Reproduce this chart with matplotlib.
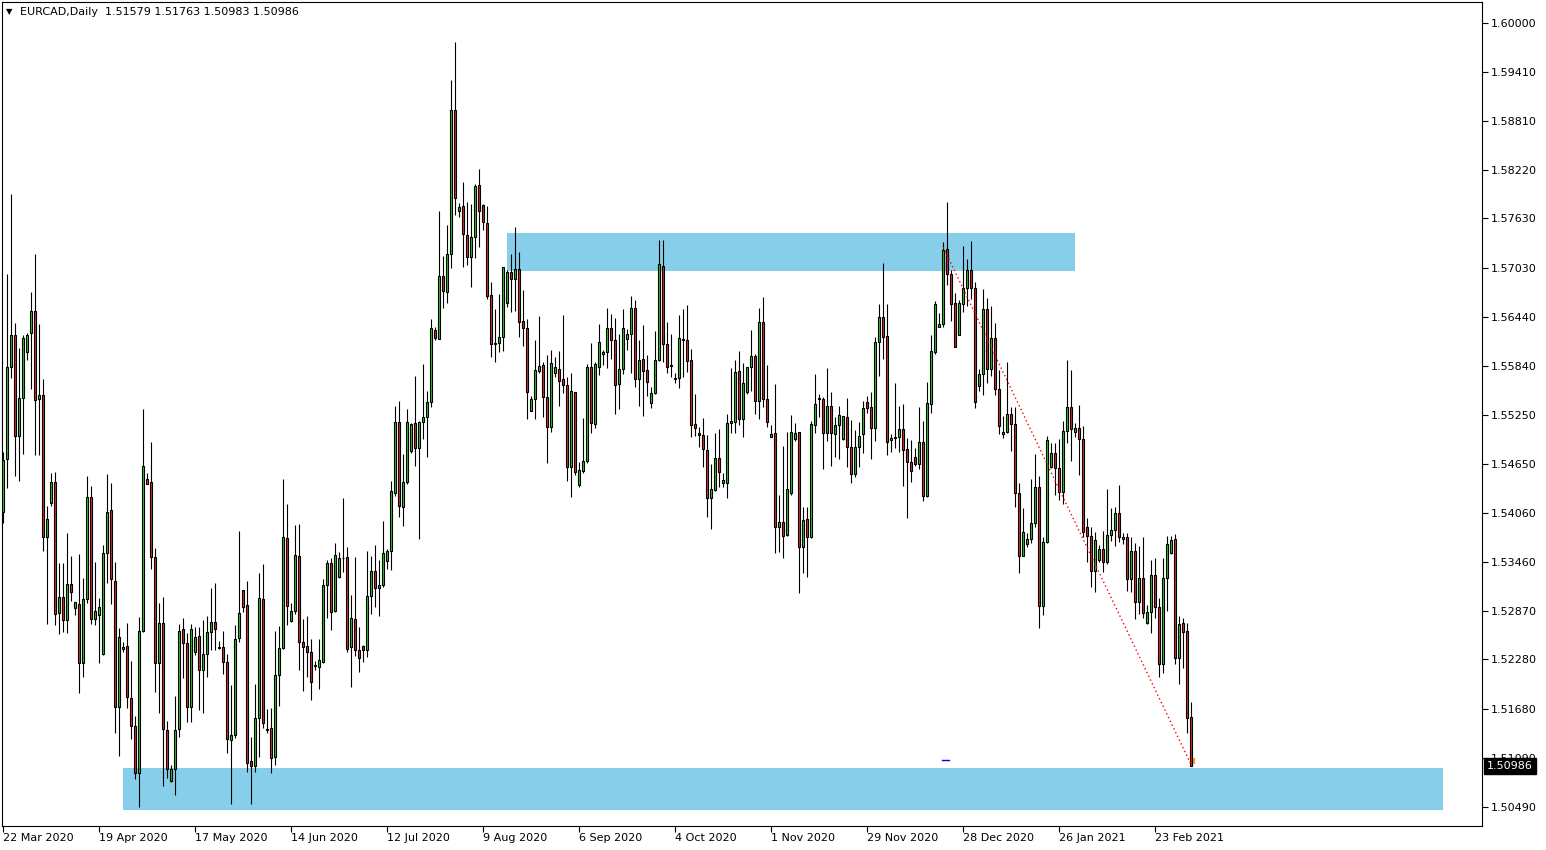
import matplotlib
matplotlib.use("Agg")
import matplotlib.pyplot as plt
import matplotlib.transforms as mtransforms
from matplotlib.patches import Rectangle
import numpy as np

symbol = "EURCAD,Daily"

opens = [
    1.54069, 1.54712, 1.55827, 1.56215, 1.54990, 1.55451, 1.56010, 1.56240, 1.56507, 1.55439,
    1.55487, 1.53765, 1.54178, 1.54433, 1.52843, 1.53037, 1.52758, 1.53195, 1.52904, 1.52952,
    1.52237, 1.53013, 1.54250, 1.52770, 1.52819, 1.52346, 1.53571, 1.54093, 1.53232, 1.51703,
    1.52407, 1.52443, 1.51812, 1.51473, 1.50903, 1.52625, 1.54469, 1.54433, 1.53523, 1.52237,
    1.52722, 1.51424, 1.50806, 1.50951, 1.51436, 1.52649, 1.52479, 1.51703, 1.52370, 1.52564,
    1.52152, 1.52346, 1.52613, 1.52734, 1.52419, 1.52431, 1.52249, 1.51303, 1.51364, 1.52540,
    1.53122, 1.52940, 1.51048, 1.50988, 1.51570, 1.53013, 1.51436, 1.51448, 1.51097, 1.52091,
    1.52419, 1.53753, 1.52746, 1.52868, 1.53535, 1.52492, 1.52443, 1.52370, 1.52213, 1.52188,
    1.52249, 1.53183, 1.53450, 1.52868, 1.53280, 1.53511, 1.53523, 1.52431, 1.52770, 1.52395,
    1.52443, 1.52395, 1.53050, 1.53353, 1.53147, 1.53183, 1.53474, 1.53596, 1.54299, 1.55160,
    1.54129, 1.54433, 1.54809, 1.55148, 1.54845, 1.55160, 1.55221, 1.55403, 1.56276, 1.56167,
    1.56931, 1.56737, 1.57198, 1.58945, 1.57720, 1.57780, 1.57428, 1.57161, 1.57404, 1.58035,
    1.57793, 1.57574, 1.56701, 1.56118, 1.56118, 1.56191, 1.56604, 1.56980, 1.56895, 1.57016,
    1.56385, 1.56300, 1.55294, 1.55439, 1.55779, 1.55852, 1.55464, 1.55100, 1.55755, 1.55803,
    1.55682, 1.55609, 1.54614, 1.55524, 1.54396, 1.54566, 1.54687, 1.55827, 1.55136, 1.55827,
    1.55985, 1.56010, 1.56300, 1.56155, 1.55621, 1.55803, 1.56167, 1.56227, 1.56543, 1.55682,
    1.55924, 1.55791, 1.55391, 1.55512, 1.55912, 1.57052, 1.56106, 1.55852, 1.55694, 1.55694,
    1.56167, 1.56155, 1.55912, 1.55136, 1.55027, 1.55003, 1.54821, 1.54238, 1.54335, 1.54724,
    1.54420, 1.54420, 1.55148, 1.55160, 1.55779, 1.55197, 1.55524, 1.55827, 1.55961, 1.55415,
    1.56373, 1.55439, 1.54978, 1.55027, 1.53887, 1.53947, 1.53789, 1.54299, 1.54954, 1.55039,
    1.53644, 1.53984, 1.53765, 1.55124, 1.55451, 1.55439, 1.55027, 1.55354, 1.55015, 1.55124,
    1.54954, 1.55221, 1.54857, 1.54530, 1.54857, 1.55015, 1.55403, 1.55342, 1.55087, 1.56131,
    1.56434, 1.56203, 1.54942, 1.54978, 1.54978, 1.55075, 1.54833, 1.54675, 1.54736, 1.54650,
    1.54918, 1.54263, 1.55379, 1.56010, 1.56313, 1.56348, 1.57259, 1.56955, 1.56604, 1.56215,
    1.56592, 1.56786, 1.57004, 1.56786, 1.55597, 1.55743, 1.56531, 1.55803, 1.56179, 1.55561,
    1.55015, 1.55039, 1.55257, 1.55136, 1.54299, 1.53535, 1.53680, 1.53741, 1.53935, 1.54372,
    1.52928, 1.53705, 1.54614, 1.54785, 1.54602, 1.54311, 1.55051, 1.55342, 1.55039, 1.55087,
    1.54954, 1.53887, 1.53777, 1.53353, 1.53486, 1.53620, 1.53462, 1.53789, 1.53850, 1.54056,
    1.53741, 1.53765, 1.53256, 1.53596, 1.52977, 1.53268, 1.52722, 1.52855, 1.53304, 1.52916,
    1.52225, 1.53268, 1.53571, 1.53741, 1.52298, 1.52722, 1.52625, 1.51579,
]

highs = [
    1.54797, 1.56955, 1.57925, 1.56361, 1.56058, 1.56215, 1.56240, 1.56737, 1.57198, 1.56348,
    1.55682, 1.54141, 1.54542, 1.54554, 1.53450, 1.53450, 1.53814, 1.53535, 1.52977, 1.53559,
    1.53268, 1.54505, 1.54384, 1.53462, 1.53025, 1.53668, 1.54530, 1.54420, 1.53462, 1.52661,
    1.52492, 1.52722, 1.52261, 1.51594, 1.52795, 1.55318, 1.54542, 1.54918, 1.53632, 1.52965,
    1.53037, 1.51533, 1.51000, 1.51836, 1.52709, 1.52782, 1.52601, 1.52709, 1.52673, 1.52673,
    1.52758, 1.52807, 1.53147, 1.53207, 1.52504, 1.52625, 1.52346, 1.51970, 1.52697, 1.53838,
    1.53122, 1.53232, 1.51339, 1.51982, 1.53329, 1.53438, 1.51679, 1.51691, 1.52625, 1.52685,
    1.54469, 1.54166, 1.52965, 1.53911, 1.53923, 1.52770, 1.52807, 1.52528, 1.52261, 1.52528,
    1.53256, 1.53486, 1.53511, 1.53692, 1.53584, 1.54238, 1.53644, 1.53062, 1.53523, 1.52673,
    1.52455, 1.53596, 1.53535, 1.53668, 1.53486, 1.53959, 1.53620, 1.54445, 1.55354, 1.55415,
    1.54772, 1.55318, 1.55148, 1.55718, 1.55172, 1.55864, 1.55536, 1.56409, 1.56312, 1.57720,
    1.57173, 1.57550, 1.59309, 1.59770, 1.57817, 1.58071, 1.57829, 1.57805, 1.58047, 1.58229,
    1.57805, 1.57780, 1.56859, 1.56531, 1.56713, 1.57040, 1.57004, 1.57198, 1.57526, 1.57222,
    1.56761, 1.56409, 1.55476, 1.56155, 1.56446, 1.55888, 1.55973, 1.56034, 1.55949, 1.56022,
    1.56458, 1.55706, 1.55755, 1.55524, 1.54675, 1.55209, 1.55864, 1.56118, 1.55888, 1.56348,
    1.56034, 1.56543, 1.56470, 1.56421, 1.56227, 1.56531, 1.56288, 1.56689, 1.56640, 1.56155,
    1.56336, 1.55973, 1.55585, 1.56264, 1.57368, 1.57368, 1.56373, 1.56227, 1.55755, 1.56458,
    1.56531, 1.56579, 1.56046, 1.55500, 1.55100, 1.55209, 1.55003, 1.54650, 1.55027, 1.55075,
    1.54542, 1.55257, 1.55815, 1.55912, 1.56022, 1.55876, 1.55827, 1.56276, 1.55985, 1.56543,
    1.56676, 1.55852, 1.55124, 1.55621, 1.54275, 1.54869, 1.55039, 1.55245, 1.55148, 1.55039,
    1.54129, 1.54129, 1.55172, 1.55743, 1.55500, 1.55464, 1.55815, 1.55524, 1.55221, 1.55354,
    1.55233, 1.55451, 1.55184, 1.55063, 1.55160, 1.55415, 1.55476, 1.55524, 1.56191, 1.56592,
    1.57089, 1.56592, 1.55015, 1.55633, 1.55354, 1.55379, 1.54966, 1.54942, 1.54845, 1.55342,
    1.55172, 1.55645, 1.56215, 1.56628, 1.56482, 1.57343, 1.57829, 1.57004, 1.56725, 1.56640,
    1.57295, 1.57137, 1.57356, 1.56859, 1.55803, 1.56774, 1.56664, 1.56567, 1.56361, 1.55791,
    1.55233, 1.55888, 1.55342, 1.55342, 1.54420, 1.54117, 1.53814, 1.54469, 1.54772, 1.54505,
    1.53765, 1.54990, 1.54906, 1.54906, 1.54954, 1.55172, 1.55912, 1.55791, 1.55148, 1.55366,
    1.55112, 1.53996, 1.53887, 1.53826, 1.53668, 1.53838, 1.54348, 1.54117, 1.54129, 1.54396,
    1.53814, 1.53814, 1.53765, 1.53692, 1.53656, 1.53765, 1.52940, 1.53486, 1.53511, 1.53025,
    1.53511, 1.53777, 1.53777, 1.53802, 1.52807, 1.52782, 1.52722, 1.51763,
]

lows = [
    1.53935, 1.54360, 1.55694, 1.54505, 1.54445, 1.54772, 1.55912, 1.55561, 1.54760, 1.54760,
    1.53596, 1.52709, 1.54141, 1.52697, 1.52588, 1.52613, 1.52601, 1.52989, 1.52819, 1.51873,
    1.52067, 1.52965, 1.52709, 1.52697, 1.52237, 1.52334, 1.53207, 1.52952, 1.51388, 1.51109,
    1.52370, 1.51691, 1.51315, 1.50830, 1.50490, 1.52613, 1.54408, 1.53377, 1.51885, 1.51630,
    1.50745, 1.50842, 1.50794, 1.50636, 1.51339, 1.52055, 1.51521, 1.51521, 1.52334, 1.51667,
    1.51630, 1.52067, 1.52395, 1.52395, 1.52407, 1.52104, 1.51146, 1.50527, 1.51327, 1.52492,
    1.52855, 1.50915, 1.50527, 1.50915, 1.51097, 1.51448, 1.51388, 1.50903, 1.51000, 1.51715,
    1.52407, 1.52697, 1.52734, 1.52831, 1.52152, 1.51897, 1.52067, 1.51788, 1.52152, 1.51921,
    1.52237, 1.52782, 1.52637, 1.52855, 1.53268, 1.53341, 1.52370, 1.51945, 1.52322, 1.52128,
    1.52249, 1.52310, 1.52831, 1.52916, 1.52807, 1.53159, 1.53377, 1.53365, 1.54263, 1.54008,
    1.53899, 1.54408, 1.54785, 1.54626, 1.53741, 1.54954, 1.54736, 1.55342, 1.56155, 1.56167,
    1.56543, 1.56604, 1.57028, 1.57671, 1.57647, 1.57040, 1.57064, 1.56798, 1.57149, 1.57283,
    1.57489, 1.56652, 1.55949, 1.55888, 1.56009, 1.56022, 1.56555, 1.56494, 1.56507, 1.56191,
    1.56082, 1.55197, 1.55294, 1.55197, 1.55755, 1.55221, 1.54663, 1.55039, 1.55706, 1.55354,
    1.55512, 1.54445, 1.54250, 1.54517, 1.54372, 1.54542, 1.54663, 1.55027, 1.55087, 1.55730,
    1.55852, 1.55815, 1.55924, 1.55257, 1.55318, 1.55743, 1.56034, 1.55755, 1.55585, 1.55354,
    1.55233, 1.55476, 1.55330, 1.55500, 1.55900, 1.55888, 1.55755, 1.55706, 1.55633, 1.55573,
    1.55706, 1.55767, 1.54978, 1.54990, 1.54857, 1.54614, 1.54008, 1.53862, 1.54323, 1.54372,
    1.54372, 1.54238, 1.55027, 1.55027, 1.55124, 1.54978, 1.55500, 1.55536, 1.55257, 1.55197,
    1.55342, 1.55100, 1.54978, 1.53571, 1.53584, 1.53511, 1.53777, 1.54275, 1.54930, 1.53086,
    1.53329, 1.53280, 1.53753, 1.55027, 1.55221, 1.54590, 1.54930, 1.54626, 1.54736, 1.54712,
    1.54942, 1.54614, 1.54420, 1.54493, 1.54614, 1.54785, 1.55269, 1.54712, 1.54930, 1.55718,
    1.55924, 1.54760, 1.54797, 1.54845, 1.54797, 1.54384, 1.53996, 1.54433, 1.54626, 1.54590,
    1.54202, 1.54250, 1.55269, 1.55985, 1.56313, 1.56313, 1.56822, 1.56385, 1.56070, 1.56215,
    1.56494, 1.56567, 1.56652, 1.55330, 1.55536, 1.55488, 1.55633, 1.55718, 1.55488, 1.55015,
    1.54966, 1.55027, 1.54809, 1.54129, 1.53329, 1.53535, 1.53644, 1.53692, 1.53887, 1.52661,
    1.52819, 1.53692, 1.54602, 1.54275, 1.54214, 1.54166, 1.54906, 1.54687, 1.54978, 1.54517,
    1.53765, 1.53462, 1.53159, 1.53098, 1.53462, 1.53341, 1.53438, 1.53717, 1.53656, 1.53705,
    1.53680, 1.53110, 1.53098, 1.52770, 1.52831, 1.52782, 1.52709, 1.52601, 1.52782, 1.52067,
    1.52116, 1.52868, 1.53559, 1.52225, 1.51982, 1.52176, 1.51388, 1.50983,
]

closes = [
    1.54699, 1.55827, 1.56215, 1.54990, 1.55451, 1.56179, 1.56215, 1.56507, 1.55427, 1.55487,
    1.53765, 1.53984, 1.54433, 1.52831, 1.53037, 1.52758, 1.53195, 1.53098, 1.52977, 1.52237,
    1.53013, 1.54250, 1.52770, 1.52868, 1.52916, 1.53571, 1.54069, 1.53256, 1.51703, 1.52552,
    1.52431, 1.51824, 1.51473, 1.50903, 1.52625, 1.54626, 1.54408, 1.53523, 1.52237, 1.52722,
    1.51436, 1.50951, 1.50951, 1.51424, 1.52625, 1.52479, 1.51703, 1.52649, 1.52552, 1.52152,
    1.52346, 1.52613, 1.52734, 1.52649, 1.52431, 1.52249, 1.51315, 1.51364, 1.52528, 1.52843,
    1.52916, 1.51024, 1.50988, 1.51570, 1.53025, 1.51509, 1.51430, 1.51085, 1.52091, 1.52419,
    1.53765, 1.52928, 1.52868, 1.53547, 1.52492, 1.52431, 1.52370, 1.52006, 1.52200, 1.52273,
    1.53183, 1.53450, 1.52855, 1.53547, 1.53511, 1.53505, 1.52407, 1.52782, 1.52395, 1.52298,
    1.52395, 1.53050, 1.53353, 1.53147, 1.53183, 1.53571, 1.53596, 1.54323, 1.55160, 1.54141,
    1.54433, 1.55160, 1.55136, 1.54845, 1.55160, 1.55221, 1.55403, 1.56300, 1.56179, 1.56931,
    1.56749, 1.57198, 1.58945, 1.57877, 1.57768, 1.57440, 1.57161, 1.57404, 1.58023, 1.57720,
    1.57586, 1.56689, 1.56106, 1.56110, 1.56191, 1.57040, 1.56980, 1.56895, 1.57016, 1.56373,
    1.56300, 1.55524, 1.55439, 1.55791, 1.55839, 1.55464, 1.55100, 1.55876, 1.55827, 1.55658,
    1.55609, 1.54614, 1.55536, 1.54554, 1.54578, 1.54687, 1.55827, 1.55148, 1.55864, 1.56131,
    1.56010, 1.56300, 1.56155, 1.55609, 1.55803, 1.56300, 1.56227, 1.56543, 1.55682, 1.55912,
    1.55779, 1.55646, 1.55512, 1.55912, 1.57077, 1.56106, 1.55827, 1.55845, 1.55682, 1.56179,
    1.56155, 1.55900, 1.55124, 1.55087, 1.55003, 1.54833, 1.54238, 1.54348, 1.54724, 1.54554,
    1.54457, 1.55148, 1.55172, 1.55767, 1.55197, 1.55633, 1.55827, 1.55961, 1.55415, 1.56373,
    1.55439, 1.55160, 1.55015, 1.53887, 1.53947, 1.53777, 1.54348, 1.55039, 1.55027, 1.53644,
    1.53971, 1.53765, 1.55136, 1.55379, 1.55439, 1.55027, 1.55354, 1.55027, 1.55124, 1.55245,
    1.55233, 1.54857, 1.54530, 1.54857, 1.54990, 1.55330, 1.55330, 1.55087, 1.56131, 1.56434,
    1.56191, 1.54918, 1.54966, 1.54972, 1.55075, 1.54821, 1.54675, 1.54566, 1.54650, 1.54918,
    1.54263, 1.55391, 1.56022, 1.56592, 1.56348, 1.57247, 1.56955, 1.56592, 1.56070, 1.56604,
    1.56786, 1.57004, 1.56786, 1.55403, 1.55743, 1.56531, 1.55803, 1.56179, 1.55561, 1.55112,
    1.55039, 1.55257, 1.55136, 1.54299, 1.53535, 1.53826, 1.53741, 1.53935, 1.54372, 1.52928,
    1.53705, 1.54942, 1.54785, 1.54602, 1.54311, 1.55051, 1.55342, 1.55075, 1.55087, 1.54954,
    1.53826, 1.53777, 1.53353, 1.53729, 1.53620, 1.53462, 1.53789, 1.53850, 1.54056, 1.53765,
    1.53765, 1.53256, 1.53596, 1.52977, 1.53268, 1.52843, 1.52855, 1.53304, 1.52916, 1.52225,
    1.53268, 1.53680, 1.53729, 1.52298, 1.52709, 1.52613, 1.51570, 1.50986,
]

date_labels = ["22 Mar 2020", "19 Apr 2020", "17 May 2020", "14 Jun 2020", "12 Jul 2020",
               "9 Aug 2020", "6 Sep 2020", "4 Oct 2020", "1 Nov 2020", "29 Nov 2020",
               "28 Dec 2020", "26 Jan 2021", "23 Feb 2021"]
bars_per_label = 24

price_ticks = [1.60000, 1.59410, 1.58810, 1.58220, 1.57630, 1.57030, 1.56440, 1.55840,
               1.55250, 1.54650, 1.54060, 1.53460, 1.52870, 1.52280, 1.51680, 1.51090, 1.50490]

# supply / demand zones: (start bar, end bar, low price, high price)
zone_start = [125.9, 29.9]
zone_end = [267.9, 359.9]
zone_low = [1.56992, 1.50454]
zone_high = [1.57453, 1.50963]

trend_bars = [235, 297]
trend_prices = [1.57280, 1.51000]

# ---------------------------------------------------------------
W, H = 1546, 850
fig = plt.figure(figsize=(W / 100, H / 100), dpi=100)
fig.patch.set_facecolor("white")
ax = fig.add_axes([2 / W, 24 / H, 1480 / W, 824 / H])

o = np.array(opens)
h = np.array(highs)
l = np.array(lows)
c = np.array(closes)
n = len(o)
x = np.arange(n)
up = c >= o

BULL = "#26C926"
BEAR = "#D92B2B"

for xs, xe, lo, hi in zip(zone_start, zone_end, zone_low, zone_high):
    ax.add_patch(Rectangle((xs, lo), xe - xs, hi - lo, facecolor="#87CEEB",
                           edgecolor="none", zorder=1))

ax.vlines(x, l, h, color="black", lw=0.8, zorder=3)
bottoms = np.minimum(o, c)
heights = np.maximum(np.abs(c - o), 0.00001)
ax.bar(x, heights, bottom=bottoms, width=0.5, color=np.where(up, BULL, BEAR),
       edgecolor="black", linewidth=0.8, zorder=4)

ax.plot(trend_bars, trend_prices, color="#FF0000", lw=1.0, ls=(0, (1, 2)), zorder=5)
ax.plot([234.6, 236.4], [1.51060, 1.51060], color="#0000FF", lw=1, zorder=5)
ax.plot([n - 1 + 0.6, n - 1 + 0.6], [1.51020, 1.51070], color="#E8A317", lw=1.5, zorder=5)

ax.set_xlim(-0.325, 369.675)
ax.set_ylim(1.50260, 1.60255)

ax.yaxis.tick_right()
ax.set_yticks(price_ticks)
ax.set_yticklabels([f"{p:.5f}" for p in price_ticks])
ax.tick_params(axis="y", direction="out", length=4, width=0.8, pad=2.5, labelsize=8)

xt = [i * bars_per_label for i in range(len(date_labels))]
ax.set_xticks(xt)
ax.set_xticklabels(date_labels, ha="left")
ax.tick_params(axis="x", direction="out", length=4, width=0.8, pad=1, labelsize=8)
for lbl in ax.get_xticklabels():
    lbl.set_x(lbl.get_position()[0])

for s in ax.spines.values():
    s.set_color("black")
    s.set_linewidth(0.8)

trans = mtransforms.blended_transform_factory(ax.transAxes, ax.transData)
ax.text(1 + 5 / 1480, c[-1], f"{c[-1]:.5f}", transform=trans, va="center", ha="left",
        color="white", fontsize=8, clip_on=False, zorder=10,
        bbox=dict(boxstyle="square,pad=0.25", fc="black", ec="black"))

fig.text(6 / W, 1 - 12 / H, "\u25BC", fontsize=6, va="center", ha="left")
fig.text(20 / W, 1 - 12 / H,
         f"{symbol}  {o[-1]:.5f} {h[-1]:.5f} {l[-1]:.5f} {c[-1]:.5f}",
         fontsize=8, va="center", ha="left")

fig.savefig("out.png", dpi=100)
